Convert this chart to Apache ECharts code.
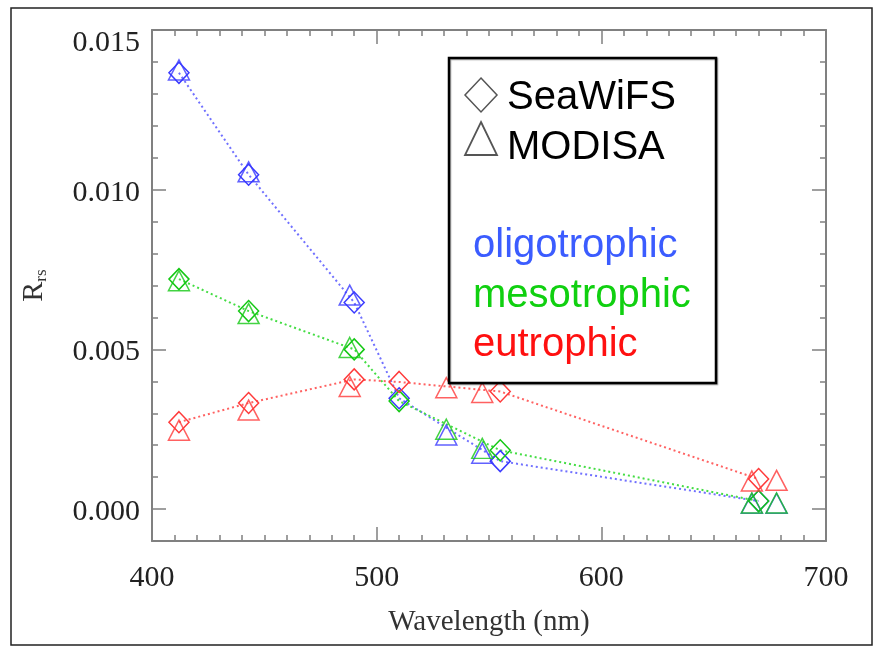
<!DOCTYPE html>
<html>
<head>
<meta charset="utf-8">
<script src="https://cdn.jsdelivr.net/npm/echarts@6/dist/echarts.min.js"></script>
<style>
html,body{margin:0;padding:0;background:#fff;}
#chart{width:875px;height:650px;}
</style>
</head>
<body>
<div id="chart"></div>
<script>
// Wavelengths (nm)
var seawifsWl = [412, 443, 490, 510, 555, 670];
var modisWl = [412, 443, 488, 531, 547, 667, 678];
// Rrs values
var oligoSeaWiFS = [0.01366, 0.01047, 0.00647, 0.00347, 0.00150, 0.00025];
var oligoMODIS   = [0.01375, 0.01056, 0.00670, 0.00232, 0.00175, 0.00018, 0.00018];
var mesoSeaWiFS  = [0.00720, 0.00620, 0.00500, 0.00338, 0.00184, 0.00025];
var mesoMODIS    = [0.00715, 0.00612, 0.00506, 0.00250, 0.00190, 0.00019, 0.00019];
var eutroSeaWiFS = [0.00272, 0.00332, 0.00406, 0.00398, 0.00368, 0.00094];
var eutroMODIS   = [0.00247, 0.00310, 0.00384, 0.00380, 0.00365, 0.00088, 0.00090];
// Tick labels
var xTickLabels = [400, 500, 600, 700];
var yTickLabels = [0.000, 0.005, 0.010, 0.015];

function pairs(xs, ys) { return xs.map(function (x, i) { return [x, ys[i]]; }); }

var axisGrey = '#808080';
var cls = [
  { sw: oligoSeaWiFS, md: oligoMODIS, mark: '#3a3aff', line: '#7070ff' },
  { sw: mesoSeaWiFS, md: mesoMODIS, mark: '#14c814', line: '#44dd44' },
  { sw: eutroSeaWiFS, md: eutroMODIS, mark: '#ff3a3a', line: '#ff6262' }
];

var series = [];
cls.forEach(function (c) {
  series.push({
    type: 'line', xAxisIndex: 0, yAxisIndex: 0,
    data: pairs(seawifsWl, c.sw),
    symbol: 'diamond', symbolSize: [20, 21],
    lineStyle: { color: c.line, width: 2, type: [2, 3] },
    itemStyle: { color: 'rgba(255,255,255,0)', borderColor: c.mark, borderWidth: 1.5 },
    emphasis: { disabled: true }, animation: false, z: 3
  });
  series.push({
    type: 'scatter', xAxisIndex: 0, yAxisIndex: 0,
    data: pairs(modisWl, c.md),
    symbol: 'triangle', symbolSize: [21, 20],
    itemStyle: { color: 'rgba(255,255,255,0)', borderColor: c.mark, borderWidth: 1.5 },
    emphasis: { disabled: true }, animation: false, z: 3
  });
});

var serif = 'Liberation Serif';
var grid = { left: 152, right: 49, top: 30, bottom: 109 };

var xBase = {
  type: 'value', min: 400, max: 700, interval: 100,
  splitLine: { show: false },
  axisLine: { show: true, onZero: false, lineStyle: { color: axisGrey, width: 2 } },
  axisTick: { show: true, inside: true, length: 14, lineStyle: { color: axisGrey, width: 1.5 } },
  minorTick: { show: true, splitNumber: 10, length: 6, lineStyle: { color: axisGrey, width: 1.5 } }
};

var option = {
  animation: false,
  backgroundColor: '#ffffff',
  grid: grid,
  xAxis: [
    Object.assign({}, xBase, {
      position: 'bottom',
      axisLabel: {
        show: true, fontFamily: serif, fontSize: 30, color: '#222', margin: 22,
        customValues: xTickLabels
      },
      name: 'Wavelength (nm)', nameLocation: 'middle', nameGap: 67,
      nameTextStyle: { fontFamily: serif, fontSize: 29, color: '#333' }
    }),
    Object.assign({}, xBase, { position: 'top', axisLabel: { show: false } })
  ],
  yAxis: [
    {
      type: 'value', position: 'left', min: -0.001, max: 0.015, interval: 0.001,
      splitLine: { show: false },
      axisLine: { show: true, onZero: false, lineStyle: { color: axisGrey, width: 2 } },
      axisTick: { show: true, inside: true, length: 6, lineStyle: { color: axisGrey, width: 1.5 } },
      axisLabel: {
        show: true, margin: 12, customValues: yTickLabels,
        formatter: function (v) {
          var s = (Math.round(v * 1000) / 1000).toFixed(3);
          if (Math.abs(v - 0.015) < 1e-9) return '{t|' + s + '}';
          return '{n|' + s + '}';
        },
        rich: {
          t: { fontFamily: serif, fontSize: 30, color: '#222', padding: [26, 0, 0, 0] },
          n: { fontFamily: serif, fontSize: 30, color: '#222', padding: [6, 0, 0, 0] }
        }
      },
      name: '{r|R}{s|rs}', nameLocation: 'middle', nameGap: 103, nameRotate: 90,
      nameTextStyle: {
        rich: {
          r: { fontFamily: serif, fontSize: 30, color: '#333', lineHeight: 30, verticalAlign: 'top' },
          s: { fontFamily: serif, fontSize: 17, color: '#333', lineHeight: 17, verticalAlign: 'top', padding: [14, 0, 0, 0] }
        }
      }
    },
    {
      type: 'value', position: 'left', min: -0.001, max: 0.015,
      splitLine: { show: false }, axisLine: { show: false },
      axisTick: { show: true, inside: true, length: 14, customValues: yTickLabels, lineStyle: { color: axisGrey, width: 1.5 } },
      axisLabel: { show: false }
    },
    {
      type: 'value', position: 'right', min: -0.001, max: 0.015, interval: 0.001,
      splitLine: { show: false },
      axisLine: { show: true, onZero: false, lineStyle: { color: axisGrey, width: 2 } },
      axisTick: { show: true, inside: true, length: 6, lineStyle: { color: axisGrey, width: 1.5 } },
      axisLabel: { show: false }
    },
    {
      type: 'value', position: 'right', min: -0.001, max: 0.015,
      splitLine: { show: false }, axisLine: { show: false },
      axisTick: { show: true, inside: true, length: 14, customValues: yTickLabels, lineStyle: { color: axisGrey, width: 1.5 } },
      axisLabel: { show: false }
    }
  ],
  graphic: [
    { type: 'rect', shape: { x: 11, y: 8, width: 861, height: 637 }, style: { fill: 'none', stroke: '#222', lineWidth: 1.5 }, z: 0 },
    { type: 'rect', shape: { x: 449, y: 58, width: 267, height: 325 }, style: { fill: '#fff', stroke: '#000', lineWidth: 2.5, shadowColor: 'rgba(0,0,0,0.35)', shadowOffsetX: 1, shadowOffsetY: 1, shadowBlur: 1 }, z: 10 },
    { type: 'polygon', shape: { points: [[481, 78], [497, 95], [481, 112], [465, 95]] }, style: { fill: 'none', stroke: '#555', lineWidth: 1.5 }, z: 11 },
    { type: 'polygon', shape: { points: [[481, 122], [497, 155], [465, 155]] }, style: { fill: 'none', stroke: '#555', lineWidth: 1.8 }, z: 11 },
    { type: 'text', x: 507, y: 78, style: { text: 'SeaWiFS', font: '40px "Liberation Sans"', fill: '#000', verticalAlign: 'top' }, z: 11 },
    { type: 'text', x: 507, y: 128, style: { text: 'MODISA', font: '40px "Liberation Sans"', fill: '#000', verticalAlign: 'top' }, z: 11 },
    { type: 'text', x: 473, y: 226, style: { text: 'oligotrophic', font: '40px "Liberation Sans"', fill: '#3b5cff', verticalAlign: 'top' }, z: 11 },
    { type: 'text', x: 473, y: 276, style: { text: 'mesotrophic', font: '40px "Liberation Sans"', fill: '#10d010', verticalAlign: 'top' }, z: 11 },
    { type: 'text', x: 473, y: 325, style: { text: 'eutrophic', font: '40px "Liberation Sans"', fill: '#ff1010', verticalAlign: 'top' }, z: 11 }
  ],
  series: series
};

var chart = echarts.init(document.getElementById('chart'), null, { renderer: 'canvas' });
chart.setOption(option);
</script>
</body>
</html>
